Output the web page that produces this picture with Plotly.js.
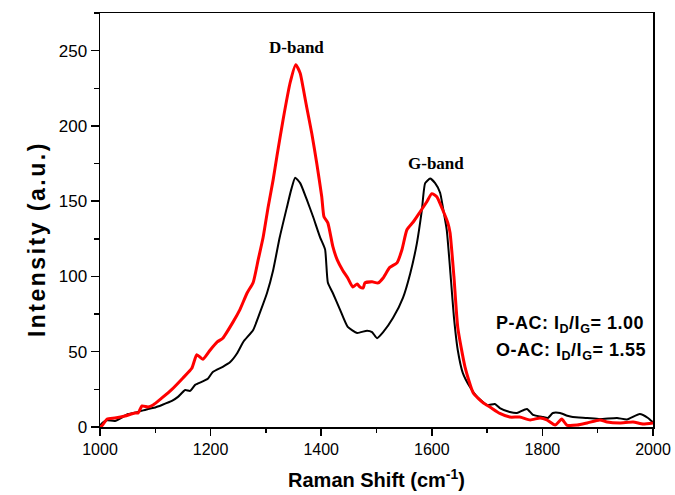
<!DOCTYPE html>
<html>
<head>
<meta charset="utf-8">
<script src="https://cdn.plot.ly/plotly-3.0.1.min.js"></script>
<style>html,body{margin:0;padding:0;background:#fff;}#chart{width:675px;height:495px;}</style>
</head>
<body>
<div id="chart"></div>
<script>
// P-AC (black) spectrum
const pacShift = [1000,1005,1013,1027,1051,1069,1087,1100,1112,1130,1141,1154,1163,1172,1184,1195,1204,1222,1235,1248,1259,1277,1289,1302,1313,1325,1338,1346,1353,1362,1374,1385,1398,1407,1412,1421,1434,1448,1465,1483,1492,1501,1512,1530,1548,1561,1573,1582,1588,1597,1606,1615,1620,1627,1635,1640,1647,1656,1669,1682,1700,1714,1723,1741,1754,1772,1783,1801,1810,1819,1832,1845,1855,1881,1904,1935,1953,1976,1991,2000];
const pacIntensity = [1,3,4.5,4,8.6,10,12,13,14.6,17.3,20,24.6,24,28,30,32,36.6,40,43,49,56.5,64.5,75.8,89,104,126,146,158,165.6,162,151,140,126,118,96,89,78,66.5,62.5,64,63,59,63,72.5,86,102,122,144,162,165,162,155.6,146,131,96,73,51,36,26.6,20,14.6,15.3,12.6,10,9.3,12,8,6.6,6,9.3,9.3,7.5,6.6,6,5.3,6,5,8.6,6,3];

// O-AC (red) spectrum
const oacShift = [1000,1004,1013,1027,1045,1063,1069,1076,1087,1096,1112,1130,1150,1166,1175,1186,1199,1212,1222,1241,1253,1266,1277,1286,1295,1304,1313,1320,1331,1344,1354,1362,1368,1374,1383,1392,1401,1405,1412,1421,1429,1439,1448,1457,1465,1470,1476,1479,1492,1503,1512,1524,1537,1546,1555,1566,1579,1591,1600,1609,1620,1629,1633,1640,1647,1660,1675,1693,1705,1723,1741,1759,1778,1796,1808,1823,1835,1844,1863,1881,1904,1917,1940,1964,1982,2000];
const oacIntensity = [0,1,5.3,6,7.3,9.3,9.3,14,13.3,14.6,19.3,25,32.6,39,48,45,51,56.5,59,70,78,89,96,111,126,146,164,180,204,229,240.7,235,224,212,195,175,153,139.6,135.6,120,111,104,99,93,95,93,92.4,95.7,96.4,95.7,99,106,109,117.7,131,136,143,149.6,155,153,144,135.6,129,100,66,40,22.6,16,13.3,9,6.6,6.6,4.7,6,4.7,1.3,5.3,1.3,1.3,2.7,4.7,3.3,2.7,3.3,2,2.7];

const xTickVals = [1000,1200,1400,1600,1800,2000];
const yTickVals = [0,50,100,150,200,250];

const traces = [
  {x: pacShift, y: pacIntensity, type: 'scatter', mode: 'lines', name: 'P-AC',
   line: {color: '#000000', width: 2, shape: 'spline', smoothing: 0.5}},
  {x: oacShift, y: oacIntensity, type: 'scatter', mode: 'lines', name: 'O-AC',
   line: {color: '#ff0000', width: 3, shape: 'spline', smoothing: 0.5}}
];

const axisCommon = {
  showline: true, linecolor: '#000', linewidth: 1.5, mirror: true,
  showgrid: false, zeroline: false,
  ticks: 'outside', tickcolor: '#000', tickwidth: 1.5
};
const sans = 'Liberation Sans, Arial, sans-serif';
const serif = 'Liberation Serif, Times New Roman, serif';

const layout = {
  width: 675, height: 495,
  margin: {l: 100, r: 22, t: 13, b: 68},
  paper_bgcolor: '#fff', plot_bgcolor: '#fff',
  showlegend: false,
  xaxis: Object.assign({}, axisCommon, {
    range: [1000, 2000], tickvals: xTickVals, ticklen: 7,
    tickfont: {family: sans, size: 16, color: '#000'},
    minor: {dtick: 100, tick0: 1000, ticks: 'outside', ticklen: 4, tickcolor: '#000', tickwidth: 1.5},
    title: {text: '<b>Raman Shift (cm<sup>-1</sup>)</b>', standoff: 16,
            font: {family: sans, size: 20, color: '#000'}}
  }),
  yaxis: Object.assign({}, axisCommon, {
    range: [0, 275], tickvals: yTickVals, ticklen: 8,
    tickfont: {family: sans, size: 17, color: '#000'},
    minor: {dtick: 25, tick0: 0, ticks: 'outside', ticklen: 5, tickcolor: '#000', tickwidth: 1.5}
  }),
  annotations: [
    {xref: 'paper', yref: 'paper', x: -0.142, y: 0.455, textangle: -90, showarrow: false,
     text: '<b><span style="letter-spacing:2.5px">Intensity (a.u.)</span></b>',
     font: {family: sans, size: 23, color: '#000'}},
    {x: 1355, y: 252, xref: 'x', yref: 'y', text: '<b>D-band</b>', showarrow: false,
     font: {family: serif, size: 17, color: '#000'}},
    {x: 1607, y: 175, xref: 'x', yref: 'y', text: '<b>G-band</b>', showarrow: false,
     font: {family: serif, size: 17, color: '#000'}},
    {x: 1712, y: 68, xref: 'x', yref: 'y', xanchor: 'left', showarrow: false,
     text: '<b><span style="letter-spacing:0.5px">P-AC: I<sub>D</sub>/I<sub>G</sub>= 1.00</span></b>',
     font: {family: sans, size: 18, color: '#000'}},
    {x: 1712, y: 50, xref: 'x', yref: 'y', xanchor: 'left', showarrow: false,
     text: '<b><span style="letter-spacing:0.5px">O-AC: I<sub>D</sub>/I<sub>G</sub>= 1.55</span></b>',
     font: {family: sans, size: 18, color: '#000'}}
  ]
};

Plotly.newPlot('chart', traces, layout, {displayModeBar: false, staticPlot: true});
</script>
</body>
</html>
